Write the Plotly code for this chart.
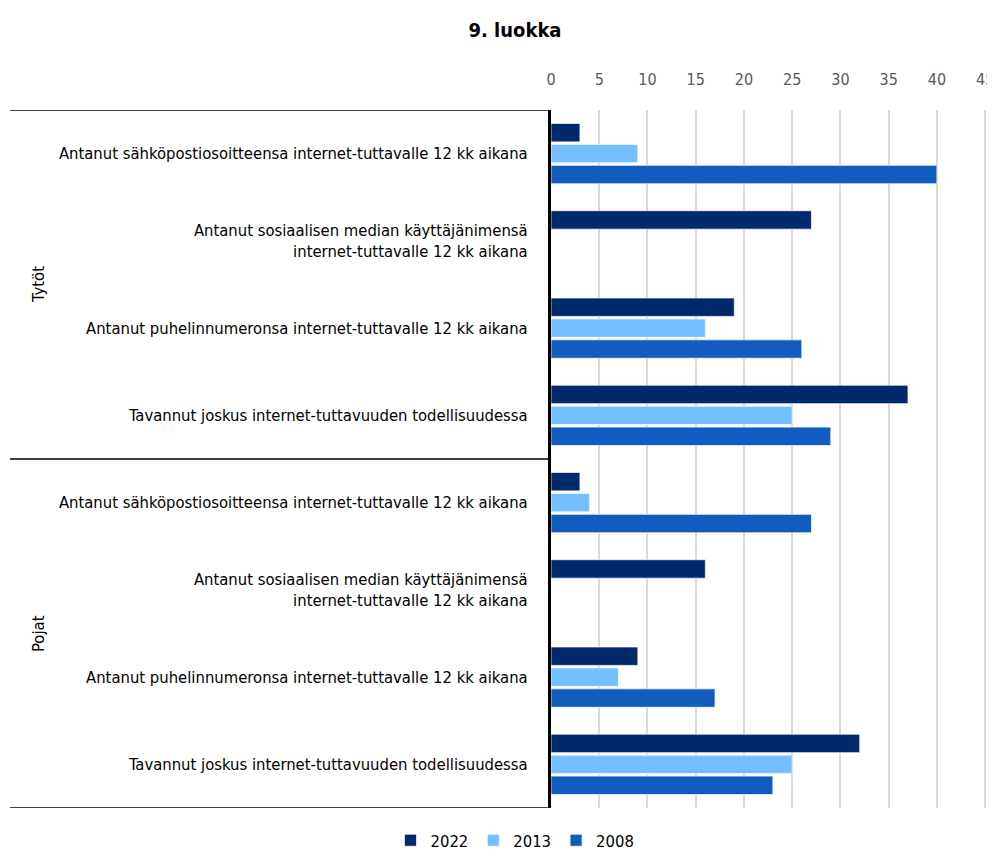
import plotly.graph_objects as go

TITLE = "9. luokka"
GROUPS = ["Tytöt", "Pojat"]
ITEMS = [
    "Antanut sähköpostiosoitteensa internet-tuttavalle 12 kk aikana",
    "Antanut sosiaalisen median käyttäjänimensä<br>internet-tuttavalle 12 kk aikana",
    "Antanut puhelinnumeronsa internet-tuttavalle 12 kk aikana",
    "Tavannut joskus internet-tuttavuuden todellisuudessa",
]
YEARS = ["2022", "2013", "2008"]

# values per year, rows: Tytöt items then Pojat items
VALUES_2022 = [3, 27, 19, 37, 3, 16, 9, 32]
VALUES_2013 = [9, None, 16, 25, 4, None, 7, 25]
VALUES_2008 = [40, None, 26, 29, 27, None, 17, 23]
X_TICKS = [0, 5, 10, 15, 20, 25, 30, 35, 40, 45]

COLORS = {"2022": "#002a6c", "2013": "#74bfff", "2008": "#125cbf"}
FONT = "DejaVu Sans Condensed, Liberation Sans Narrow, sans-serif"

W, H = 987, 850
PLOT_W, PLOT_H = 438, 698

rows = [item for _ in GROUPS for item in ITEMS]
positions = list(range(len(rows)))
series = {"2022": VALUES_2022, "2013": VALUES_2013, "2008": VALUES_2008}

fig = go.Figure()
for year in YEARS:
    fig.add_trace(
        go.Bar(
            x=series[year],
            y=positions,
            orientation="h",
            name=year,
            marker={
                "color": COLORS[year],
                "line": {"color": "rgba(255,255,255,0.7)", "width": 1},
            },
        )
    )

# group separators and rotated group labels
n_items = len(ITEMS)
left = -541 / PLOT_W
for g, group in enumerate(GROUPS):
    start = g * n_items - 0.5
    fig.add_shape(
        type="line", xref="paper", yref="y",
        x0=left, x1=0, y0=start, y1=start,
        line={"color": "black", "width": 1.5},
    )
    fig.add_annotation(
        text=group, xref="paper", yref="y",
        x=-524 / PLOT_W, y=start + n_items / 2,
        textangle=-90, showarrow=False,
        font={"size": 16.5, "color": "black", "family": FONT},
    )
end = len(rows) - 0.5
fig.add_shape(
    type="line", xref="paper", yref="y",
    x0=left, x1=0, y0=end, y1=end,
    line={"color": "black", "width": 1.5},
)

fig.update_layout(
    width=W,
    height=H,
    barmode="group",
    bargap=0.28,
    bargroupgap=0.12,
    margin={"l": 543, "r": W - 543 - PLOT_W, "t": 102, "b": H - 102 - PLOT_H},
    paper_bgcolor="white",
    plot_bgcolor="white",
    font={"family": FONT, "size": 16.5, "color": "black"},
    title={
        "text": f"<b>{TITLE}</b>",
        "x": 507 / W,
        "xanchor": "center",
        "y": 1 - 22 / H,
        "yanchor": "middle",
        "font": {"size": 20, "color": "black", "family": FONT},
    },
    xaxis={
        "side": "top",
        "range": [0, 45.4],
        "tickvals": X_TICKS,
        "showgrid": True,
        "gridcolor": "#d9d9d9",
        "gridwidth": 1.5,
        "zeroline": False,
        "showline": False,
        "automargin": False,
        "ticks": "",
        "ticklabelstandoff": 21,
        "ticklabeloverflow": "allow",
        "tickfont": {"size": 16, "color": "#595959"},
    },
    yaxis={
        "range": [len(rows) - 0.5, -0.5],
        "tickvals": positions,
        "ticktext": rows,
        "showgrid": False,
        "zeroline": False,
        "showline": True,
        "automargin": False,
        "linecolor": "black",
        "linewidth": 3,
        "ticks": "",
        "ticklabelstandoff": 17,
        "tickfont": {"size": 16.5, "color": "black"},
    },
    legend={
        "orientation": "h",
        "xref": "container",
        "yref": "container",
        "x": 507 / W,
        "xanchor": "center",
        "y": 0,
        "yanchor": "bottom",
        "itemwidth": 30,
        "font": {"size": 16.5, "color": "black"},
    },
    showlegend=True,
)

fig.write_html("out.html")
